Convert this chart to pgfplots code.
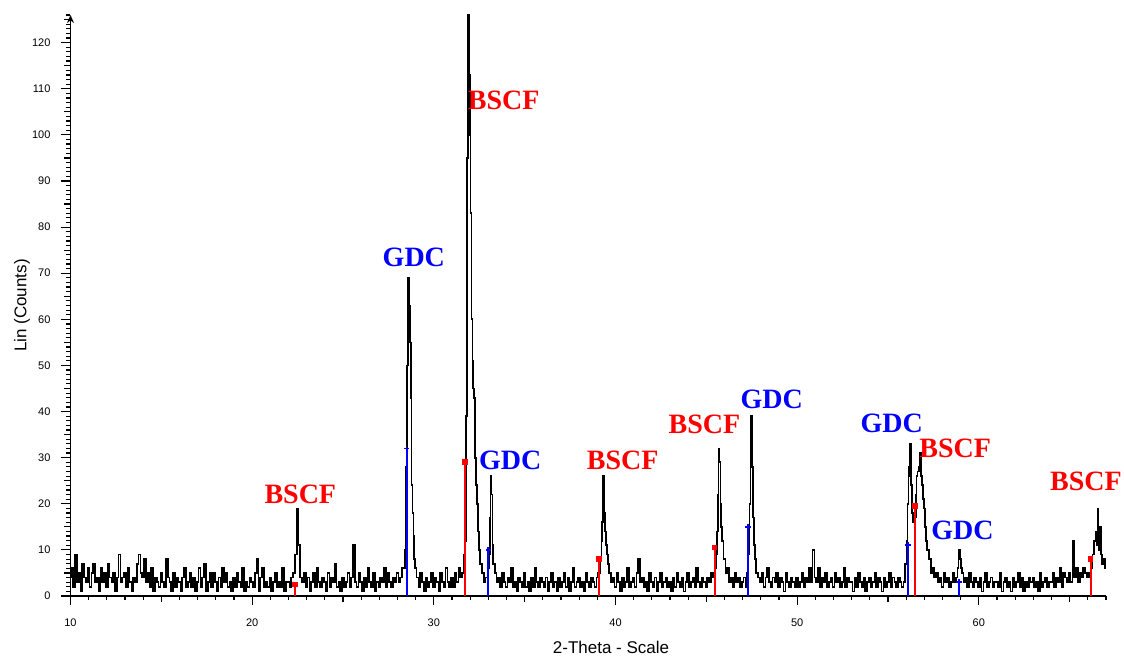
\documentclass[border=0pt]{standalone}
\usepackage{pgfplots}
\pgfplotsset{compat=1.18}
\usetikzlibrary{arrows.meta}
\usepackage{fontspec}
\setmainfont{Liberation Sans}
\newfontfamily\annfont{Liberation Serif}
\definecolor{bscf}{RGB}{255,0,0}
\definecolor{gdc}{RGB}{0,0,255}
\begin{document}
\begin{tikzpicture}
\begin{axis}[
  scale only axis, width=517.75pt, height=290.5pt,
  xmin=10, xmax=67, ymin=0, ymax=126,
  axis x line*=bottom, axis y line*=left,
  y axis line style={-{Stealth[length=4pt,width=3.5pt]}},
  axis line style={line width=0.7pt},
  xtick={10,20,...,60}, minor xtick={10,...,67},
  ytick={0,10,...,120}, minor ytick={0,...,126},
  extra x ticks={15,25,...,65}, extra x tick labels={},
  extra y ticks={5,15,...,125}, extra y tick labels={},
  extra tick style={major tick length=3.2pt},
  tick align=outside, major tick length=4.5pt, minor tick length=2pt,
  tick style={black, line width=0.6pt},
  /pgf/number format/assume math mode=true,
  ticklabel style={font=\fontsize{5.5}{6}\selectfont},
  xticklabel style={yshift=-3.5pt},
  yticklabel style={xshift=-2pt},
  xlabel={2-Theta - Scale}, ylabel={Lin (Counts)},
  label style={font=\fontsize{8.5}{10}\selectfont},
  xlabel style={at={(axis description cs:0.522,0)}, anchor=center, yshift=-25.5pt},
  ylabel style={at={(axis description cs:-0.0468,0.5)}, anchor=center},
  clip=false,
]
\addplot[black, line width=0.85pt, mark=none, const plot mark mid] coordinates {
(10.0,4)(10.1,6)(10.2,2)(10.3,9)(10.4,3)(10.5,5)(10.6,1)(10.7,7)(10.8,4)(10.9,3)
(11.0,6)(11.1,2)(11.2,5)(11.3,7)(11.4,3)(11.5,4)(11.6,1)(11.7,6)(11.8,3)(11.9,5)
(12.0,2)(12.1,7)(12.2,4)(12.3,3)(12.4,5)(12.5,1)(12.6,4)(12.7,9)(12.8,3)(12.9,4)
(13.0,5)(13.1,2)(13.2,6)(13.3,3)(13.4,1)(13.5,4)(13.6,3)(13.7,7)(13.8,9)(13.9,5)
(14.0,4)(14.1,8)(14.2,3)(14.3,5)(14.4,2)(14.5,6)(14.6,1)(14.7,4)(14.8,3)(14.9,2)
(15.0,5)(15.1,3)(15.2,2)(15.3,8)(15.4,4)(15.5,3)(15.6,1)(15.7,5)(15.8,2)(15.9,4)
(16.0,3)(16.1,1)(16.2,4)(16.3,6)(16.4,2)(16.5,3)(16.6,5)(16.7,2)(16.8,4)(16.9,1)
(17.0,3)(17.1,6)(17.2,2)(17.3,4)(17.4,7)(17.5,1)(17.6,3)(17.7,5)(17.8,2)(17.9,5)
(18.0,3)(18.1,1)(18.2,4)(18.3,2)(18.4,6)(18.5,3)(18.6,5)(18.7,2)(18.8,3)(18.9,1)
(19.0,4)(19.1,2)(19.2,5)(19.3,3)(19.4,2)(19.5,6)(19.6,1)(19.7,3)(19.8,2)(19.9,4)
(20.0,3)(20.1,2)(20.2,5)(20.3,8)(20.4,1)(20.5,4)(20.6,6)(20.7,2)(20.8,3)(20.9,2)
(21.0,4)(21.1,1)(21.2,3)(21.3,5)(21.4,2)(21.5,3)(21.6,2)(21.7,6)(21.8,1)(21.9,3)
(22.0,3)(22.1,2)(22.2,4)(22.3,5)(22.4,9)(22.5,19)(22.6,11)(22.7,4)(22.8,3)(22.9,5)
(23.0,2)(23.1,4)(23.2,1)(23.3,3)(23.4,5)(23.5,2)(23.6,6)(23.7,3)(23.8,2)(23.9,4)
(24.0,3)(24.1,1)(24.2,5)(24.3,2)(24.4,4)(24.5,3)(24.6,7)(24.7,2)(24.8,3)(24.9,1)
(25.0,4)(25.1,2)(25.2,3)(25.3,5)(25.4,2)(25.5,4)(25.6,11)(25.7,3)(25.8,2)(25.9,5)
(26.0,3)(26.1,1)(26.2,4)(26.3,2)(26.4,6)(26.5,3)(26.6,2)(26.7,5)(26.8,1)(26.9,3)
(27.0,2)(27.1,4)(27.2,3)(27.3,6)(27.4,2)(27.5,5)(27.6,3)(27.7,2)(27.8,4)(27.9,3)
(28.0,5)(28.1,3)(28.2,4)(28.3,6)(28.4,6)(28.45,10)(28.5,28)(28.55,50)(28.6,69)(28.65,63)
(28.7,55)(28.75,43)(28.8,24)(28.85,18)(28.9,13)(28.95,8)(29.0,6)
(29.1,4)(29.2,2)(29.3,5)(29.4,3)(29.5,1)(29.6,4)(29.7,2)(29.8,3)(29.9,5)
(30.0,2)(30.1,4)(30.2,3)(30.3,1)(30.4,5)(30.5,3)(30.6,2)(30.7,6)(30.8,3)(30.9,2)
(31.0,4)(31.1,2)(31.2,5)(31.3,3)(31.4,6)(31.5,4)(31.6,5)(31.7,9)(31.75,12)(31.8,39)
(31.85,95)(31.9,126)(31.95,113)(32.0,100)(32.05,83)(32.1,60)(32.15,51)(32.2,45)(32.25,43)(32.3,30)
(32.35,24)(32.4,20)(32.45,14)(32.5,10)(32.6,7)(32.7,5)(32.8,3)(32.9,4)
(33.0,6)(33.05,9)(33.1,17)(33.15,26)(33.2,22)(33.25,11)(33.3,7)(33.4,5)(33.5,3)(33.6,4)(33.7,2)(33.8,5)(33.9,3)
(34.0,2)(34.1,4)(34.2,3)(34.3,6)(34.4,2)(34.5,3)(34.6,1)(34.7,4)(34.8,3)(34.9,2)
(35.0,5)(35.1,2)(35.2,3)(35.3,1)(35.4,4)(35.5,2)(35.6,6)(35.7,3)(35.8,2)(35.9,4)
(36.0,3)(36.1,2)(36.2,4)(36.3,1)(36.4,3)(36.5,5)(36.6,2)(36.7,3)(36.8,1)(36.9,4)
(37.0,2)(37.1,3)(37.2,5)(37.3,2)(37.4,4)(37.5,1)(37.6,3)(37.7,6)(37.8,2)(37.9,3)
(38.0,4)(38.1,2)(38.2,3)(38.3,1)(38.4,5)(38.5,3)(38.6,2)(38.7,4)(38.8,3)(38.9,2)
(39.0,4)(39.1,5)(39.2,8)(39.25,12)(39.3,16)(39.35,26)(39.4,18)(39.45,14)(39.5,11)(39.55,9)(39.6,7)(39.7,5)(39.8,3)(39.9,4)
(40.0,2)(40.1,5)(40.2,3)(40.3,1)(40.4,4)(40.5,2)(40.6,3)(40.7,6)(40.8,2)(40.9,3)
(41.0,4)(41.1,2)(41.2,5)(41.3,8)(41.4,3)(41.5,4)(41.6,2)(41.7,3)(41.8,1)(41.9,5)
(42.0,3)(42.1,2)(42.2,4)(42.3,1)(42.4,3)(42.5,5)(42.6,2)(42.7,3)(42.8,4)(42.9,2)
(43.0,3)(43.1,1)(43.2,4)(43.3,2)(43.4,5)(43.5,3)(43.6,2)(43.7,4)(43.8,1)(43.9,3)
(44.0,5)(44.1,2)(44.2,3)(44.3,4)(44.4,2)(44.5,6)(44.6,3)(44.7,2)(44.8,4)(44.9,3)
(45.0,2)(45.1,4)(45.2,3)(45.3,5)(45.4,4)(45.5,6)(45.55,9)(45.6,14)(45.65,22)(45.7,32)
(45.75,29)(45.8,20)(45.85,15)(45.9,12)(46.0,8)(46.1,5)
(46.2,6)(46.3,3)(46.4,4)(46.5,2)(46.6,5)(46.7,3)(46.8,4)(46.9,2)
(47.0,3)(47.1,4)(47.2,2)(47.3,5)(47.35,9)(47.4,20)(47.45,31)(47.5,39)(47.55,28)(47.6,17)
(47.65,11)(47.7,8)(47.8,5)(47.9,4)
(48.0,3)(48.1,5)(48.2,2)(48.3,4)(48.4,6)(48.5,3)(48.6,2)(48.7,4)(48.8,3)(48.9,5)
(49.0,2)(49.1,4)(49.2,3)(49.3,1)(49.4,5)(49.5,3)(49.6,2)(49.7,4)(49.8,3)(49.9,2)
(50.0,4)(50.1,2)(50.2,3)(50.3,5)(50.4,2)(50.5,4)(50.6,3)(50.7,6)(50.8,3)(50.9,10)
(51.0,4)(51.1,3)(51.2,6)(51.3,2)(51.4,4)(51.5,3)(51.6,5)(51.7,2)(51.8,3)(51.9,4)
(52.0,2)(52.1,5)(52.2,3)(52.3,4)(52.4,2)(52.5,3)(52.6,6)(52.7,2)(52.8,4)(52.9,3)
(53.0,3)(53.1,1)(53.2,4)(53.3,2)(53.4,5)(53.5,3)(53.6,2)(53.7,4)(53.8,1)(53.9,3)
(54.0,4)(54.1,2)(54.2,3)(54.3,5)(54.4,2)(54.5,4)(54.6,3)(54.7,1)(54.8,4)(54.9,2)
(55.0,3)(55.1,5)(55.2,2)(55.3,4)(55.4,3)(55.5,2)(55.6,4)(55.7,3)(55.8,2)(55.9,3)
(56.0,7)(56.05,12)(56.1,20)(56.15,26)(56.2,28)(56.25,33)(56.3,24)(56.35,18)(56.4,16)(56.45,18)
(56.5,17)(56.55,22)(56.6,26)(56.65,27)(56.7,28)(56.75,27)(56.8,31)(56.85,26)(56.9,24)(56.95,21)
(57.0,19)(57.05,15)(57.1,12)(57.2,10)(57.3,8)(57.4,5)(57.5,6)(57.6,4)(57.7,5)(57.8,3)(57.9,4)
(58.0,2)(58.1,5)(58.2,3)(58.3,4)(58.4,2)(58.5,3)(58.6,5)(58.7,3)(58.8,4)(58.85,6)
(58.9,9)(58.95,10)(59.0,8)(59.05,6)(59.1,5)(59.2,3)(59.3,4)(59.4,2)(59.5,5)(59.6,3)(59.7,2)(59.8,4)(59.9,3)
(60.0,2)(60.1,4)(60.2,1)(60.3,3)(60.4,5)(60.5,2)(60.6,3)(60.7,4)(60.8,2)(60.9,3)
(61.0,3)(61.1,2)(61.2,5)(61.3,1)(61.4,3)(61.5,4)(61.6,2)(61.7,3)(61.8,1)(61.9,4)
(62.0,2)(62.1,3)(62.2,5)(62.3,2)(62.4,4)(62.5,1)(62.6,3)(62.7,2)(62.8,4)(62.9,3)
(63.0,4)(63.1,2)(63.2,3)(63.3,1)(63.4,5)(63.5,2)(63.6,3)(63.7,4)(63.8,2)(63.9,3)
(64.0,3)(64.1,5)(64.2,2)(64.3,4)(64.4,3)(64.5,6)(64.6,2)(64.7,5)(64.8,4)(64.9,3)
(65.0,5)(65.1,3)(65.2,12)(65.3,4)(65.4,6)(65.5,3)(65.6,5)(65.7,4)(65.8,6)(65.9,5)
(66.0,4)(66.1,5)(66.2,6)(66.3,9)(66.4,12)(66.45,14)(66.5,11)(66.55,19)(66.6,13)(66.65,10)
(66.7,15)(66.75,9)(66.8,7)(66.9,8)(67.0,6)
};
% reference sticks
\addplot[ycomb, bscf, line width=1pt, mark=square*, mark size=0.9pt, mark options={bscf}] coordinates {
(22.35,2.5)(31.72,29)(39.1,8)(45.45,10.5)(56.5,19.5)(66.15,8)};
\addplot[ycomb, gdc, line width=1pt, mark=+, mark size=1.4pt, mark options={gdc, line width=0.9pt}] coordinates {
(28.5,32)(33.0,10)(47.3,15)(56.1,11)(58.9,3)};
% labels
\tikzset{lab/.style={font=\annfont\bfseries\fontsize{14}{16}\selectfont, inner sep=0pt}}
\node[lab, bscf] at (axis cs:22.65,22.1) {BSCF};
\node[lab, gdc]  at (axis cs:28.9,73.5) {GDC};
\node[lab, bscf] at (axis cs:33.85,107.4) {BSCF};
\node[lab, gdc]  at (axis cs:34.2,29.5) {GDC};
\node[lab, bscf] at (axis cs:40.4,29.5) {BSCF};
\node[lab, bscf] at (axis cs:44.9,37.3) {BSCF};
\node[lab, gdc]  at (axis cs:48.6,42.7) {GDC};
\node[lab, gdc]  at (axis cs:55.2,37.5) {GDC};
\node[lab, bscf] at (axis cs:58.7,32.1) {BSCF};
\node[lab, gdc]  at (axis cs:59.1,14.3) {GDC};
\node[lab, bscf] at (axis cs:65.9,24.9) {BSCF};
\end{axis}
\pgfresetboundingbox
\path (-35.25pt,-30.5pt) rectangle (526.75pt,298pt);
\end{tikzpicture}
\end{document}
